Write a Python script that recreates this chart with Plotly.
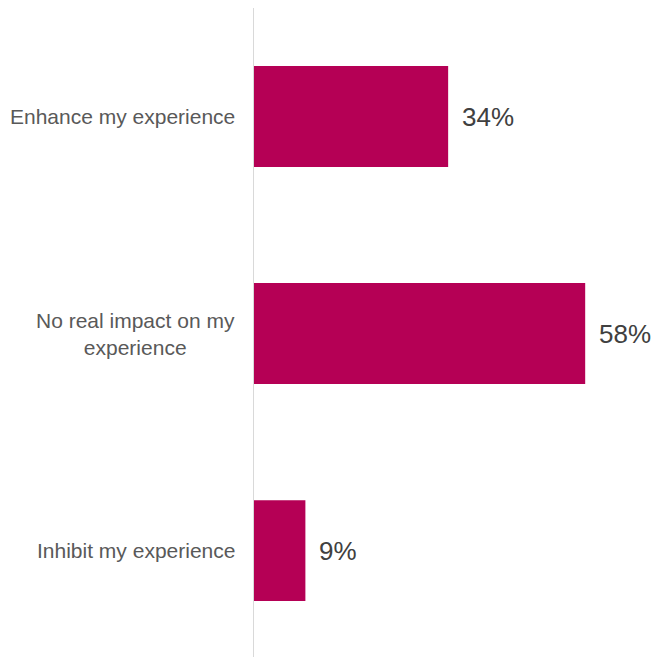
import plotly.graph_objects as go

# Survey responses: effect on experience
categories = ["Enhance my experience", "No real impact on my experience", "Inhibit my experience"]
category_labels = ["Enhance my experience", "No real impact on my<br>experience", "Inhibit my experience"]
values = [34, 58, 9]

BAR_COLOR = "#B50055"
LABEL_COLOR = "#595959"
VALUE_COLOR = "#404040"
FONT = "Liberation Sans, Arial, sans-serif"

fig = go.Figure(
    go.Bar(
        x=values,
        y=categories,
        orientation="h",
        marker=dict(color=BAR_COLOR, line=dict(width=0)),
        hoverinfo="skip",
    )
)

annotations = []
# value labels to the right of each bar
for cat, v in zip(categories, values):
    annotations.append(dict(
        x=v, y=cat, xref="x", yref="y",
        text=f"{v}%", showarrow=False,
        xanchor="left", yanchor="middle", xshift=12,
        font=dict(family=FONT, size=26, color=VALUE_COLOR),
    ))
# category labels, centred within their block left of the axis
for cat, lab in zip(categories, category_labels):
    annotations.append(dict(
        x=0, y=cat, xref="paper", yref="y",
        text=lab, showarrow=False, align="center",
        xanchor="right", yanchor="middle", xshift=-17,
        font=dict(family=FONT, size=21, color=LABEL_COLOR),
    ))

fig.update_layout(
    width=656, height=657,
    margin=dict(l=254, r=0, t=8, b=0),
    paper_bgcolor="white", plot_bgcolor="white",
    bargap=0.535,
    showlegend=False,
    annotations=annotations,
    xaxis=dict(range=[0, 70.4], visible=False, fixedrange=True),
    yaxis=dict(
        range=[2.49, -0.5], showticklabels=False, ticks="",
        showgrid=False, zeroline=False,
        showline=True, linecolor="#D9D9D9", linewidth=1.3,
        fixedrange=True,
    ),
)

fig.write_html("out.html")
